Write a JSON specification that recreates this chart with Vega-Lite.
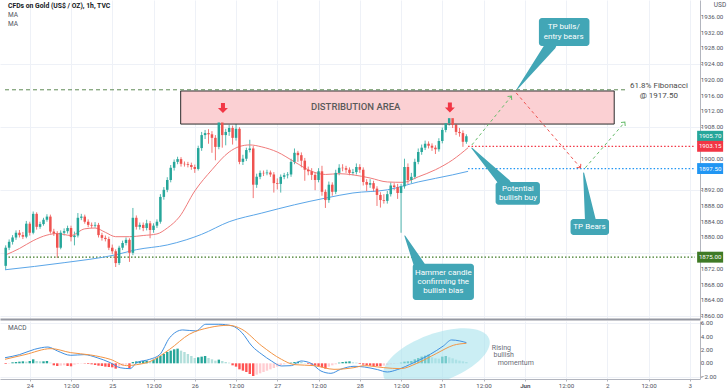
{
"$schema": "https://vega.github.io/schema/vega-lite/v6.json",
"padding": 0,
"background": "#ffffff",
"spacing": 0,
"config": {"view": {"stroke": null}, "font": "Roboto",
"axis": {"labelFont": "Roboto", "labelFontSize": 6.2, "labelColor": "#50535e", "tickSize": 2, "tickColor": "#b2b5be", "labelPadding": 2, "domainColor": "#b2b5be", "gridColor": "#eef1f7"}},
"datasets": {
"candles": [
{"t":-7,"o":1872.8,"h":1878.0,"l":1871.8,"c":1877.4},{"t":-6,"o":1877.4,"h":1879.5,"l":1876.8,"c":1878.9},{"t":-5,"o":1878.9,"h":1880.6,"l":1878.2,"c":1880.0},{"t":-4,"o":1880.0,"h":1881.8,"l":1879.4,"c":1881.2},{"t":-3,"o":1881.2,"h":1881.9,"l":1880.0,"c":1880.6},{"t":-2,"o":1880.6,"h":1881.4,"l":1879.6,"c":1880.2},{"t":-1,"o":1880.2,"h":1884.2,"l":1879.8,"c":1883.5},{"t":0,"o":1883.5,"h":1884.0,"l":1880.5,"c":1881.2},{"t":1,"o":1881.2,"h":1886.6,"l":1880.8,"c":1886.0},{"t":2,"o":1886.0,"h":1886.4,"l":1882.0,"c":1882.7},{"t":3,"o":1882.7,"h":1884.0,"l":1882.2,"c":1883.4},{"t":4,"o":1883.4,"h":1885.0,"l":1883.0,"c":1884.5},{"t":5,"o":1884.5,"h":1885.9,"l":1884.0,"c":1885.3},{"t":6,"o":1885.3,"h":1885.8,"l":1881.0,"c":1881.5},{"t":7,"o":1881.5,"h":1882.2,"l":1880.4,"c":1881.0},{"t":8,"o":1881.0,"h":1881.6,"l":1874.8,"c":1877.4},{"t":9,"o":1877.4,"h":1881.8,"l":1877.0,"c":1881.2},{"t":10,"o":1881.2,"h":1882.3,"l":1880.5,"c":1881.6},{"t":11,"o":1881.6,"h":1883.0,"l":1881.0,"c":1882.4},{"t":12,"o":1882.4,"h":1883.0,"l":1879.0,"c":1880.1},{"t":13,"o":1880.1,"h":1881.5,"l":1878.0,"c":1880.5},{"t":14,"o":1880.5,"h":1886.2,"l":1880.0,"c":1885.0},{"t":15,"o":1885.0,"h":1886.0,"l":1884.4,"c":1885.3},{"t":16,"o":1885.3,"h":1885.8,"l":1883.5,"c":1884.0},{"t":17,"o":1884.0,"h":1884.6,"l":1882.6,"c":1883.2},{"t":18,"o":1883.2,"h":1883.8,"l":1882.4,"c":1883.0},{"t":19,"o":1883.0,"h":1883.9,"l":1882.5,"c":1883.2},{"t":20,"o":1883.2,"h":1883.7,"l":1880.0,"c":1880.6},{"t":21,"o":1880.6,"h":1881.2,"l":1879.2,"c":1879.9},{"t":22,"o":1879.9,"h":1880.5,"l":1879.0,"c":1879.6},{"t":23,"o":1879.6,"h":1880.2,"l":1876.8,"c":1877.4},{"t":24,"o":1877.4,"h":1878.2,"l":1875.8,"c":1876.5},{"t":25,"o":1876.5,"h":1877.0,"l":1872.5,"c":1873.5},{"t":26,"o":1873.5,"h":1877.9,"l":1873.0,"c":1877.4},{"t":27,"o":1877.4,"h":1879.2,"l":1876.8,"c":1878.6},{"t":28,"o":1878.6,"h":1880.0,"l":1878.0,"c":1879.4},{"t":29,"o":1879.4,"h":1879.8,"l":1873.8,"c":1876.1},{"t":30,"o":1876.1,"h":1887.5,"l":1875.5,"c":1885.0},{"t":31,"o":1885.0,"h":1885.6,"l":1882.0,"c":1882.7},{"t":32,"o":1882.7,"h":1883.8,"l":1882.0,"c":1883.2},{"t":33,"o":1883.2,"h":1883.8,"l":1881.6,"c":1882.4},{"t":34,"o":1882.4,"h":1884.5,"l":1881.8,"c":1883.6},{"t":35,"o":1883.6,"h":1884.2,"l":1879.8,"c":1881.9},{"t":36,"o":1881.9,"h":1883.6,"l":1881.2,"c":1883.0},{"t":37,"o":1883.0,"h":1884.6,"l":1882.4,"c":1884.0},{"t":38,"o":1884.0,"h":1891.0,"l":1883.5,"c":1890.3},{"t":39,"o":1890.3,"h":1892.8,"l":1889.6,"c":1892.1},{"t":40,"o":1892.1,"h":1895.3,"l":1891.5,"c":1894.6},{"t":41,"o":1894.6,"h":1898.4,"l":1894.0,"c":1897.7},{"t":42,"o":1897.7,"h":1899.8,"l":1897.0,"c":1899.2},{"t":43,"o":1899.2,"h":1900.5,"l":1898.6,"c":1899.9},{"t":44,"o":1899.9,"h":1900.4,"l":1898.0,"c":1898.7},{"t":45,"o":1898.7,"h":1899.3,"l":1898.0,"c":1898.6},{"t":46,"o":1898.6,"h":1899.2,"l":1897.8,"c":1898.4},{"t":47,"o":1898.4,"h":1899.0,"l":1897.2,"c":1897.9},{"t":48,"o":1897.9,"h":1898.5,"l":1896.4,"c":1897.4},{"t":49,"o":1897.4,"h":1903.3,"l":1897.0,"c":1902.7},{"t":50,"o":1902.7,"h":1906.8,"l":1902.0,"c":1906.0},{"t":51,"o":1906.0,"h":1907.3,"l":1905.0,"c":1906.5},{"t":52,"o":1906.5,"h":1907.5,"l":1903.8,"c":1906.2},{"t":53,"o":1906.2,"h":1907.0,"l":1901.5,"c":1905.3},{"t":54,"o":1905.3,"h":1906.0,"l":1899.6,"c":1903.0},{"t":55,"o":1903.0,"h":1910.2,"l":1902.4,"c":1909.2},{"t":56,"o":1909.2,"h":1909.8,"l":1902.8,"c":1906.0},{"t":57,"o":1906.0,"h":1907.6,"l":1903.4,"c":1906.8},{"t":58,"o":1906.8,"h":1908.6,"l":1905.8,"c":1907.8},{"t":59,"o":1907.8,"h":1908.4,"l":1903.6,"c":1905.3},{"t":60,"o":1905.3,"h":1912.9,"l":1904.6,"c":1907.6},{"t":61,"o":1907.6,"h":1908.0,"l":1898.6,"c":1899.2},{"t":62,"o":1899.2,"h":1901.0,"l":1898.4,"c":1900.0},{"t":63,"o":1900.0,"h":1902.8,"l":1899.4,"c":1902.2},{"t":64,"o":1902.2,"h":1904.8,"l":1901.6,"c":1902.6},{"t":65,"o":1902.6,"h":1903.2,"l":1890.0,"c":1893.4},{"t":66,"o":1893.4,"h":1896.2,"l":1892.6,"c":1895.4},{"t":67,"o":1895.4,"h":1897.0,"l":1894.8,"c":1896.4},{"t":68,"o":1896.4,"h":1897.0,"l":1895.6,"c":1896.3},{"t":69,"o":1896.3,"h":1897.2,"l":1895.8,"c":1896.5},{"t":70,"o":1896.5,"h":1897.0,"l":1895.4,"c":1896.0},{"t":71,"o":1896.0,"h":1896.6,"l":1891.4,"c":1893.8},{"t":72,"o":1893.8,"h":1895.0,"l":1892.2,"c":1893.6},{"t":73,"o":1893.6,"h":1896.0,"l":1891.4,"c":1895.4},{"t":74,"o":1895.4,"h":1896.4,"l":1894.8,"c":1895.8},{"t":75,"o":1895.8,"h":1896.6,"l":1895.0,"c":1896.0},{"t":76,"o":1896.0,"h":1900.0,"l":1895.4,"c":1899.2},{"t":77,"o":1899.2,"h":1902.6,"l":1898.6,"c":1901.5},{"t":78,"o":1901.5,"h":1902.0,"l":1899.2,"c":1900.9},{"t":79,"o":1900.9,"h":1901.6,"l":1897.8,"c":1899.5},{"t":80,"o":1899.5,"h":1900.2,"l":1894.4,"c":1897.2},{"t":81,"o":1897.2,"h":1898.0,"l":1895.8,"c":1896.8},{"t":82,"o":1896.8,"h":1897.6,"l":1894.6,"c":1895.9},{"t":83,"o":1895.9,"h":1896.6,"l":1892.0,"c":1894.6},{"t":84,"o":1894.6,"h":1897.6,"l":1894.0,"c":1896.8},{"t":85,"o":1896.8,"h":1898.2,"l":1890.6,"c":1891.6},{"t":86,"o":1891.6,"h":1892.2,"l":1887.5,"c":1889.5},{"t":87,"o":1889.5,"h":1894.2,"l":1888.8,"c":1893.4},{"t":88,"o":1893.4,"h":1894.0,"l":1890.6,"c":1891.6},{"t":89,"o":1891.6,"h":1897.2,"l":1891.0,"c":1896.4},{"t":90,"o":1896.4,"h":1898.6,"l":1895.8,"c":1897.7},{"t":91,"o":1897.7,"h":1898.6,"l":1896.8,"c":1897.6},{"t":92,"o":1897.6,"h":1898.2,"l":1896.4,"c":1897.2},{"t":93,"o":1897.2,"h":1897.8,"l":1895.8,"c":1896.4},{"t":94,"o":1896.4,"h":1897.4,"l":1895.8,"c":1896.6},{"t":95,"o":1896.6,"h":1898.8,"l":1896.0,"c":1897.9},{"t":96,"o":1897.9,"h":1898.6,"l":1896.4,"c":1897.2},{"t":97,"o":1897.2,"h":1897.8,"l":1893.2,"c":1894.1},{"t":98,"o":1894.1,"h":1894.8,"l":1891.8,"c":1893.4},{"t":99,"o":1893.4,"h":1894.8,"l":1892.6,"c":1893.8},{"t":100,"o":1893.8,"h":1894.4,"l":1891.6,"c":1892.4},{"t":101,"o":1892.4,"h":1893.0,"l":1888.0,"c":1890.8},{"t":102,"o":1890.8,"h":1891.5,"l":1887.6,"c":1889.5},{"t":103,"o":1889.5,"h":1891.0,"l":1888.6,"c":1889.3},{"t":104,"o":1889.3,"h":1891.8,"l":1888.6,"c":1891.0},{"t":105,"o":1891.0,"h":1894.0,"l":1890.4,"c":1893.2},{"t":106,"o":1893.2,"h":1893.8,"l":1892.0,"c":1892.8},{"t":107,"o":1892.8,"h":1893.6,"l":1889.8,"c":1891.3},{"t":108,"o":1891.3,"h":1893.6,"l":1881.2,"c":1893.0},{"t":109,"o":1893.0,"h":1900.0,"l":1892.4,"c":1897.9},{"t":110,"o":1897.9,"h":1898.8,"l":1893.6,"c":1894.6},{"t":111,"o":1894.6,"h":1896.4,"l":1893.8,"c":1895.4},{"t":112,"o":1895.4,"h":1900.0,"l":1894.8,"c":1899.2},{"t":113,"o":1899.2,"h":1902.6,"l":1898.6,"c":1901.7},{"t":114,"o":1901.7,"h":1903.6,"l":1901.0,"c":1902.8},{"t":115,"o":1902.8,"h":1904.6,"l":1902.2,"c":1903.8},{"t":116,"o":1903.8,"h":1904.4,"l":1902.6,"c":1903.3},{"t":117,"o":1903.3,"h":1903.9,"l":1902.0,"c":1902.8},{"t":118,"o":1902.8,"h":1903.4,"l":1901.2,"c":1902.4},{"t":119,"o":1902.4,"h":1905.2,"l":1901.8,"c":1904.5},{"t":120,"o":1904.5,"h":1907.9,"l":1903.9,"c":1907.3},{"t":121,"o":1907.3,"h":1909.6,"l":1906.7,"c":1909.0},{"t":122,"o":1909.0,"h":1911.2,"l":1908.4,"c":1910.3},{"t":123,"o":1910.3,"h":1910.9,"l":1907.8,"c":1908.6},{"t":124,"o":1908.6,"h":1909.2,"l":1906.0,"c":1906.8},{"t":125,"o":1906.8,"h":1907.8,"l":1905.6,"c":1906.5},{"t":126,"o":1906.5,"h":1907.2,"l":1903.0,"c":1904.3},{"t":127,"o":1904.3,"h":1906.2,"l":1903.8,"c":1905.7}
],
"ma": [
{"s":"fast","t":-7.2,"v":1875.5},{"s":"fast","t":-3,"v":1877.2},{"s":"fast","t":1,"v":1879.2},{"s":"fast","t":5,"v":1880.6},{"s":"fast","t":8,"v":1881.0},{"s":"fast","t":12,"v":1880.5},{"s":"fast","t":16,"v":1882.2},{"s":"fast","t":19,"v":1882.4},{"s":"fast","t":22,"v":1881.3},{"s":"fast","t":25,"v":1880.2},{"s":"fast","t":29,"v":1880.2},{"s":"fast","t":33,"v":1880.5},{"s":"fast","t":37,"v":1880.9},{"s":"fast","t":40,"v":1882.4},{"s":"fast","t":43.5,"v":1885.2},{"s":"fast","t":48,"v":1891.8},{"s":"fast","t":53,"v":1897.2},{"s":"fast","t":58,"v":1901.7},{"s":"fast","t":61,"v":1903.1},{"s":"fast","t":64,"v":1903.5},{"s":"fast","t":67.5,"v":1903.0},{"s":"fast","t":72,"v":1901.7},{"s":"fast","t":77,"v":1899.2},{"s":"fast","t":82,"v":1896.8},{"s":"fast","t":86,"v":1896.0},{"s":"fast","t":90,"v":1896.2},{"s":"fast","t":94,"v":1895.9},{"s":"fast","t":99,"v":1895.1},{"s":"fast","t":104,"v":1894.1},{"s":"fast","t":108.6,"v":1894.0},{"s":"fast","t":113,"v":1895.4},{"s":"fast","t":118,"v":1897.2},{"s":"fast","t":123,"v":1899.7},{"s":"fast","t":127.5,"v":1902.8},
{"s":"slow","t":-7.2,"v":1871.8},{"s":"slow","t":10,"v":1873.6},{"s":"slow","t":25,"v":1875.6},{"s":"slow","t":31,"v":1876.9},{"s":"slow","t":40,"v":1878.1},{"s":"slow","t":45.5,"v":1879.4},{"s":"slow","t":50,"v":1880.8},{"s":"slow","t":58,"v":1884.0},{"s":"slow","t":67.5,"v":1886.2},{"s":"slow","t":77,"v":1888.3},{"s":"slow","t":86,"v":1890.0},{"s":"slow","t":94,"v":1891.3},{"s":"slow","t":104,"v":1892.1},{"s":"slow","t":113,"v":1894.1},{"s":"slow","t":123,"v":1895.9},{"s":"slow","t":127.5,"v":1896.8}
],
"levels": [
{"k":"fib","t":-7.2,"t2":173.7,"v":1917.5},
{"k":"sup","t":-7.2,"t2":193.5,"v":1875},
{"k":"red","t":127.5,"t2":193.5,"v":1903.15},
{"k":"blue","t":127.5,"t2":193.5,"v":1897.5}
],
"badges": [
{"k":"last","v":1905.7,"label":"1905.70"},
{"k":"red","v":1903.15,"label":"1903.15"},
{"k":"blue","v":1897.5,"label":"1897.50"},
{"k":"sup","v":1875,"label":"1875.00"}
],
"pticks": [{"v":1860},{"v":1864},{"v":1868},{"v":1872},{"v":1880},{"v":1884},{"v":1888},{"v":1892},{"v":1900},{"v":1908},{"v":1912},{"v":1916},{"v":1920},{"v":1924},{"v":1928},{"v":1932},{"v":1936}],
"mticks": [{"v":-2},{"v":0},{"v":2},{"v":4},{"v":6}],
"zone": [{"t":43.9,"t2":170,"v":1908.8,"v2":1917.2}],
"peaks": [{"t":56.2,"v":1912.9},{"t":122.2,"v":1913.0}],
"proj": [
{"seg":"g1","t":128.6,"v":1903.5},{"seg":"g1","t":140.1,"v":1915.9},
{"seg":"r1","t":141.5,"v":1916.7},{"seg":"r1","t":160.2,"v":1897.7},
{"seg":"g2","t":161.6,"v":1897.7},{"seg":"g2","t":173.1,"v":1909.3}
],
"heads": [{"seg":"g1","t":140.1,"v":1915.9},{"seg":"r1","t":160.2,"v":1897.7},{"seg":"g2","t":173.1,"v":1909.3}],
"boxes": [
{"id":"bulls","t":148.1,"t2":162.8,"v":1935.7,"v2":1928.6},
{"id":"buy","t":135.5,"t2":148.4,"v":1894.1,"v2":1888.3},
{"id":"bears","t":157.3,"t2":168.5,"v":1884.7,"v2":1880.6},
{"id":"hammer","t":111.4,"t2":129.2,"v":1873.3,"v2":1864.1}
],
"ptr": [
{"id":"bulls","t":151.6,"v":1928.9,"end":"base"},{"id":"bulls","t":141.8,"v":1917.7,"end":"tip"},
{"id":"buy","t":138.4,"v":1893.6,"end":"base"},{"id":"buy","t":128.6,"v":1902.7,"end":"tip"},
{"id":"bears","t":163.1,"v":1884.2,"end":"base"},{"id":"bears","t":161.1,"v":1896.4,"end":"tip"},
{"id":"hammer","t":113.4,"v":1872.8,"end":"base"},{"id":"hammer","t":109.1,"v":1880.4,"end":"tip"}
],
"texts": [
{"k":"title","t":-7.2,"v":1938.8,"text":"CFDs on Gold (US$ / OZ), 1h, TVC"},
{"k":"ma","t":-7.2,"v":1936.5,"text":"MA"},
{"k":"ma","t":-7.2,"v":1934.2,"text":"MA"},
{"k":"dist","t":81.8,"v":1913.1,"text":"DISTRIBUTION AREA"},
{"k":"fib","t":174.6,"v":1918.5,"text":"61.8% Fibonacci"},
{"k":"fib","t":177.4,"v":1915.9,"text":"@ 1917.50"},
{"k":"usd","t":198.1,"v":1939.0,"text":"USD"},
{"k":"call","t":155.3,"v":1933.5,"text":"TP bulls/"},
{"k":"call","t":155.3,"v":1930.9,"text":"entry bears"},
{"k":"call","t":142,"v":1892.3,"text":"Potential"},
{"k":"call","t":142,"v":1890.0,"text":"bullish buy"},
{"k":"call","t":162.8,"v":1882.7,"text":"TP Bears"},
{"k":"call","t":120.3,"v":1871.0,"text":"Hammer candle"},
{"k":"call","t":120.3,"v":1868.7,"text":"confirming the"},
{"k":"call","t":120.3,"v":1866.4,"text":"bullish bias"}
],
"hist": [
{"t":-7,"hv":-0.1},{"t":-6,"hv":-0.05},{"t":-5,"hv":0.15},{"t":-4,"hv":0.2},{"t":-3,"hv":0.25},{"t":-2,"hv":0.3},{"t":-1,"hv":0.25},{"t":0,"hv":0.35},{"t":1,"hv":0.6},{"t":2,"hv":0.35},{"t":3,"hv":0.3},{"t":4,"hv":0.3},{"t":5,"hv":0.35},{"t":6,"hv":0.1},{"t":7,"hv":-0.3},{"t":8,"hv":-0.4},{"t":9,"hv":-0.35},{"t":10,"hv":-0.3},{"t":11,"hv":-0.4},{"t":12,"hv":-0.45},{"t":13,"hv":-0.2},{"t":14,"hv":-0.1},{"t":15,"hv":-0.05},{"t":16,"hv":-0.05},{"t":17,"hv":-0.1},{"t":18,"hv":-0.15},{"t":19,"hv":-0.25},{"t":20,"hv":-0.35},{"t":21,"hv":-0.4},{"t":22,"hv":-0.5},{"t":23,"hv":-0.55},{"t":24,"hv":-0.6},{"t":25,"hv":-0.8},{"t":26,"hv":-0.5},{"t":27,"hv":-0.4},{"t":28,"hv":-0.2},{"t":29,"hv":-0.7},{"t":30,"hv":0.2},{"t":31,"hv":0.3},{"t":32,"hv":0.3},{"t":33,"hv":0.35},{"t":34,"hv":0.4},{"t":35,"hv":0.35},{"t":36,"hv":0.55},{"t":37,"hv":0.8},{"t":38,"hv":1.1},{"t":39,"hv":1.4},{"t":40,"hv":1.7},{"t":41,"hv":1.9},{"t":42,"hv":2.1},{"t":43,"hv":2.2},{"t":44,"hv":1.9},{"t":45,"hv":1.7},{"t":46,"hv":1.4},{"t":47,"hv":1.1},{"t":48,"hv":0.8},{"t":49,"hv":0.9},{"t":50,"hv":1.0},{"t":51,"hv":1.1},{"t":52,"hv":0.8},{"t":53,"hv":0.6},{"t":54,"hv":0.4},{"t":55,"hv":0.55},{"t":56,"hv":0.35},{"t":57,"hv":0.2},{"t":58,"hv":0.1},{"t":59,"hv":-0.3},{"t":60,"hv":-0.5},{"t":61,"hv":-0.9},{"t":62,"hv":-1.1},{"t":63,"hv":-1.3},{"t":64,"hv":-1.6},{"t":65,"hv":-1.9},{"t":66,"hv":-1.7},{"t":67,"hv":-1.5},{"t":68,"hv":-1.3},{"t":69,"hv":-1.1},{"t":70,"hv":-0.9},{"t":71,"hv":-0.7},{"t":72,"hv":-0.5},{"t":73,"hv":-0.3},{"t":74,"hv":-0.15},{"t":75,"hv":-0.05},{"t":76,"hv":0.1},{"t":77,"hv":0.2},{"t":78,"hv":0.25},{"t":79,"hv":0.2},{"t":80,"hv":0.05},{"t":81,"hv":-0.1},{"t":82,"hv":-0.2},{"t":83,"hv":-0.3},{"t":84,"hv":-0.45},{"t":85,"hv":-0.6},{"t":86,"hv":-0.8},{"t":87,"hv":-0.5},{"t":88,"hv":-0.3},{"t":89,"hv":-0.15},{"t":90,"hv":0.1},{"t":91,"hv":0.2},{"t":92,"hv":0.25},{"t":93,"hv":0.3},{"t":94,"hv":0.15},{"t":95,"hv":0.1},{"t":96,"hv":-0.1},{"t":97,"hv":-0.2},{"t":98,"hv":-0.3},{"t":99,"hv":-0.35},{"t":100,"hv":-0.4},{"t":101,"hv":-0.4},{"t":102,"hv":-0.45},{"t":103,"hv":-0.35},{"t":104,"hv":-0.25},{"t":105,"hv":-0.15},{"t":106,"hv":-0.1},{"t":107,"hv":-0.05},{"t":108,"hv":0.1},{"t":109,"hv":0.25},{"t":110,"hv":0.3},{"t":111,"hv":0.35},{"t":112,"hv":0.6},{"t":113,"hv":0.8},{"t":114,"hv":1.0},{"t":115,"hv":1.15},{"t":116,"hv":1.3},{"t":117,"hv":0.9},{"t":118,"hv":0.75},{"t":119,"hv":0.7},{"t":120,"hv":1.0},{"t":121,"hv":1.1},{"t":122,"hv":0.9},{"t":123,"hv":0.75},{"t":124,"hv":0.55},{"t":125,"hv":0.4},{"t":126,"hv":0.3},{"t":127,"hv":0.2}
],
"macd": [
{"s":"m","t":-7.2,"v":0.84},{"s":"m","t":-3,"v":1.3},{"s":"m","t":1.4,"v":2.1},{"s":"m","t":5.3,"v":2.44},{"s":"m","t":8.1,"v":1.84},{"s":"m","t":11.9,"v":1.2},{"s":"m","t":15.8,"v":1.3},{"s":"m","t":19.6,"v":0.84},{"s":"m","t":23.4,"v":0.1},{"s":"m","t":26.3,"v":-0.66},{"s":"m","t":29.2,"v":-0.8},{"s":"m","t":31.1,"v":0.1},{"s":"m","t":34.9,"v":0.6},{"s":"m","t":37.8,"v":1.3},{"s":"m","t":40.7,"v":3.84},{"s":"m","t":44.5,"v":5.0},{"s":"m","t":48.3,"v":4.85},{"s":"m","t":51.2,"v":5.85},{"s":"m","t":55,"v":5.85},{"s":"m","t":58.9,"v":5.6},{"s":"m","t":61.7,"v":4.6},{"s":"m","t":64.6,"v":2.6},{"s":"m","t":67.5,"v":1.35},{"s":"m","t":70.3,"v":0.35},{"s":"m","t":73.2,"v":-0.4},{"s":"m","t":76.1,"v":-0.35},{"s":"m","t":78.9,"v":0.35},{"s":"m","t":81.8,"v":0},{"s":"m","t":84.7,"v":-1.15},{"s":"m","t":87.6,"v":-1.5},{"s":"m","t":90.4,"v":-0.9},{"s":"m","t":94.3,"v":-0.45},{"s":"m","t":97.3,"v":-0.55},{"s":"m","t":101.2,"v":-0.95},{"s":"m","t":104,"v":-1.3},{"s":"m","t":106.9,"v":-0.95},{"s":"m","t":111.7,"v":0.1},{"s":"m","t":116.5,"v":1.35},{"s":"m","t":120.3,"v":2.6},{"s":"m","t":122.7,"v":3.5},{"s":"m","t":125.1,"v":3.35},{"s":"m","t":127,"v":3.1},
{"s":"sig","t":-7.2,"v":0.6},{"s":"sig","t":-1.4,"v":1.3},{"s":"sig","t":6.2,"v":2.2},{"s":"sig","t":11.9,"v":1.6},{"s":"sig","t":17.7,"v":1.25},{"s":"sig","t":23.4,"v":0.6},{"s":"sig","t":28.2,"v":-0.35},{"s":"sig","t":31.1,"v":-0.2},{"s":"sig","t":34.9,"v":0.25},{"s":"sig","t":40.7,"v":2.1},{"s":"sig","t":46.4,"v":4.35},{"s":"sig","t":52.2,"v":5.35},{"s":"sig","t":57.9,"v":5.7},{"s":"sig","t":61.7,"v":5.1},{"s":"sig","t":67.5,"v":2.6},{"s":"sig","t":73.2,"v":0.6},{"s":"sig","t":77,"v":-0.2},{"s":"sig","t":82.8,"v":-0.35},{"s":"sig","t":88.5,"v":-0.9},{"s":"sig","t":94.3,"v":-0.65},{"s":"sig","t":97.3,"v":-0.35},{"s":"sig","t":103,"v":-0.65},{"s":"sig","t":107.9,"v":-0.8},{"s":"sig","t":112.6,"v":0.0},{"s":"sig","t":118.4,"v":1.5},{"s":"sig","t":123.2,"v":2.7},{"s":"sig","t":127,"v":3.0}
],
"mtexts": [
{"k":"macd","t":-7.2,"v":5.3,"text":"MACD"},
{"k":"mom","t":134.4,"v":2.3,"text":"Rising"},
{"k":"mom","t":134.9,"v":1.2,"text":"bullish"},
{"k":"mom","t":136.1,"v":0.1,"text":"momentum"}
],
"blob": [{"t":118.3,"v":0.8}]
},
"vconcat": [
{
"width": 700,
"height": 319,
"layer": [
{
"data": {"name": "candles"},
"mark": {"type": "rule", "strokeWidth": 0.8},
"encoding": {
"x": {"field": "t", "type": "quantitative", "title": null, "scale": {"domain": [-7.2, 193.5], "nice": false, "zero": false},
"axis": {"orient": "bottom", "values": [0,12,24,36,48,60,72,84,96,108,120,132,144,156,168,180,192], "labels": false, "ticks": false, "domain": true, "domainColor": "#9598a1", "domainWidth": 2, "grid": true}},
"y": {"field": "l", "type": "quantitative", "title": null, "scale": {"domain": [1859.3, 1940.3], "nice": false, "zero": false},
"axis": {"orient": "right", "values": [1860,1864,1868,1872,1876,1880,1884,1888,1892,1896,1900,1904,1908,1912,1916,1920,1924,1928,1932,1936], "labels": false, "domain": true, "grid": true, "tickSize": 2}},
"y2": {"field": "h"},
"stroke": {"condition": {"test": "datum.c >= datum.o", "value": "#26a69a"}, "value": "#ef5350"}
}
},
{
"data": {"name": "zone"},
"mark": {"type": "rect", "fill": "#fbd0d3", "stroke": "#2b2b2b", "strokeWidth": 1},
"encoding": {"x": {"field": "t", "type": "quantitative", "title": null}, "x2": {"field": "t2"}, "y": {"field": "v", "type": "quantitative", "title": null}, "y2": {"field": "v2"}}
},
{
"data": {"name": "levels"},
"transform": [{"filter": "datum.k == 'fib'"}],
"mark": {"type": "rule", "stroke": "#5f8a55", "strokeDash": [4, 3], "strokeWidth": 1},
"encoding": {"x": {"field": "t", "type": "quantitative", "title": null}, "x2": {"field": "t2"}, "y": {"field": "v", "type": "quantitative", "title": null}}
},
{
"data": {"name": "levels"},
"transform": [{"filter": "datum.k != 'fib'"}],
"mark": {"type": "rule", "strokeDash": [1.5, 2], "strokeWidth": 1.2},
"encoding": {"x": {"field": "t", "type": "quantitative", "title": null}, "x2": {"field": "t2"}, "y": {"field": "v", "type": "quantitative", "title": null},
"stroke": {"field": "k", "type": "nominal", "legend": null, "scale": {"domain": ["sup", "red", "blue", "last"], "range": ["#3f7a26", "#f23645", "#2196f3", "#26a69a"]}}}
},
{
"data": {"name": "ma"},
"mark": {"type": "line", "strokeWidth": 1, "interpolate": "monotone"},
"encoding": {"x": {"field": "t", "type": "quantitative", "title": null}, "y": {"field": "v", "type": "quantitative", "title": null}, "detail": {"field": "s"},
"stroke": {"condition": {"test": "datum.s == 'fast'", "value": "#f07b7b"}, "value": "#5ba6e8"}}
},
{
"data": {"name": "candles"},
"mark": {"type": "bar", "width": 2.5},
"encoding": {"x": {"field": "t", "type": "quantitative", "title": null}, "y": {"field": "o", "type": "quantitative", "title": null}, "y2": {"field": "c"},
"fill": {"condition": {"test": "datum.c >= datum.o", "value": "#26a69a"}, "value": "#ef5350"}}
},
{
"data": {"name": "peaks"},
"mark": {"type": "point", "shape": "M-0.4,-1L0.4,-1L0.4,0L1,0L0,1L-1,0L-0.4,0Z", "filled": true, "fill": "#f23645", "size": 100, "opacity": 1, "strokeWidth": 0},
"encoding": {"x": {"field": "t", "type": "quantitative", "title": null}, "y": {"field": "v", "type": "quantitative", "title": null}}
},
{
"data": {"name": "proj"},
"mark": {"type": "line", "strokeWidth": 1, "strokeDash": [3, 3]},
"encoding": {"x": {"field": "t", "type": "quantitative", "title": null}, "y": {"field": "v", "type": "quantitative", "title": null}, "detail": {"field": "seg"},
"stroke": {"condition": {"test": "datum.seg == 'r1'", "value": "#ef5350"}, "value": "#66bb6a"}}
},
{
"data": {"name": "heads"},
"mark": {"type": "point", "shape": "M-1,-1L0,0L-1,1", "filled": false, "size": 30, "strokeWidth": 1, "opacity": 1},
"encoding": {"x": {"field": "t", "type": "quantitative", "title": null}, "y": {"field": "v", "type": "quantitative", "title": null},
"angle": {"condition": {"test": "datum.seg == 'r1'", "value": 49}, "value": -50},
"stroke": {"condition": {"test": "datum.seg == 'r1'", "value": "#ef5350"}, "value": "#66bb6a"}}
},
{
"data": {"name": "ptr"},
"mark": {"type": "trail", "fill": "#42a6b6"},
"encoding": {"x": {"field": "t", "type": "quantitative", "title": null}, "y": {"field": "v", "type": "quantitative", "title": null}, "detail": {"field": "id"},
"size": {"condition": {"test": "datum.end == 'tip'", "value": 1}, "value": 11}}
},
{
"data": {"name": "boxes"},
"mark": {"type": "rect", "fill": "#42a6b6", "cornerRadius": 3},
"encoding": {"x": {"field": "t", "type": "quantitative", "title": null}, "x2": {"field": "t2"}, "y": {"field": "v", "type": "quantitative", "title": null}, "y2": {"field": "v2"}}
},
{
"data": {"name": "texts"},
"transform": [{"filter": "datum.k == 'call'"}],
"mark": {"type": "text", "color": "#ffffff", "fontSize": 8, "align": "center", "baseline": "middle"},
"encoding": {"x": {"field": "t", "type": "quantitative", "title": null}, "y": {"field": "v", "type": "quantitative", "title": null}, "text": {"field": "text"}}
},
{
"data": {"name": "texts"},
"transform": [{"filter": "datum.k == 'title'"}],
"mark": {"type": "text", "color": "#131722", "fontSize": 6.8, "fontWeight": "bold", "align": "left", "baseline": "middle", "dx": 3},
"encoding": {"x": {"field": "t", "type": "quantitative", "title": null}, "y": {"field": "v", "type": "quantitative", "title": null}, "text": {"field": "text"}}
},
{
"data": {"name": "texts"},
"transform": [{"filter": "datum.k == 'ma' || datum.k == 'usd'"}],
"mark": {"type": "text", "color": "#50535e", "fontSize": 6.5, "align": "left", "baseline": "middle", "dx": 3},
"encoding": {"x": {"field": "t", "type": "quantitative", "title": null}, "y": {"field": "v", "type": "quantitative", "title": null}, "text": {"field": "text"}}
},
{
"data": {"name": "texts"},
"transform": [{"filter": "datum.k == 'dist'"}],
"mark": {"type": "text", "color": "#5a5a5a", "fontSize": 9.5, "fontWeight": 500, "align": "left", "baseline": "middle"},
"encoding": {"x": {"field": "t", "type": "quantitative", "title": null}, "y": {"field": "v", "type": "quantitative", "title": null}, "text": {"field": "text"}}
},
{
"data": {"name": "texts"},
"transform": [{"filter": "datum.k == 'fib'"}],
"mark": {"type": "text", "color": "#4a4a4a", "fontSize": 8, "align": "left", "baseline": "middle"},
"encoding": {"x": {"field": "t", "type": "quantitative", "title": null}, "y": {"field": "v", "type": "quantitative", "title": null}, "text": {"field": "text"}}
},
{
"data": {"name": "pticks"},
"mark": {"type": "text", "color": "#50535e", "fontSize": 6.2, "align": "left", "baseline": "middle"},
"encoding": {"x": {"datum": 195.2, "type": "quantitative", "title": null}, "y": {"field": "v", "type": "quantitative", "title": null}, "text": {"field": "v", "type": "quantitative", "format": ".2f"}}
},
{
"data": {"name": "badges"},
"mark": {"type": "point", "shape": "M-1,-0.42L1,-0.42L1,0.42L-1,0.42Z", "filled": true, "size": 676, "opacity": 1, "strokeWidth": 0},
"encoding": {"x": {"datum": 197.9, "type": "quantitative", "title": null}, "y": {"field": "v", "type": "quantitative", "title": null},
"fill": {"field": "k", "type": "nominal", "legend": null, "scale": {"domain": ["sup", "red", "blue", "last"], "range": ["#3f7a26", "#f23645", "#2196f3", "#26a69a"]}}}
},
{
"data": {"name": "badges"},
"mark": {"type": "text", "color": "#ffffff", "fontSize": 6.2, "align": "center", "baseline": "middle"},
"encoding": {"x": {"datum": 197.9, "type": "quantitative", "title": null}, "y": {"field": "v", "type": "quantitative", "title": null}, "text": {"field": "label"}}
}
]
},
{
"width": 700,
"height": 58,
"layer": [
{
"data": {"name": "hist"},
"transform": [{"window": [{"op": "lag", "field": "hv", "as": "prev"}], "sort": [{"field": "t"}]}],
"mark": {"type": "bar", "width": 2.4},
"encoding": {
"x": {"field": "t", "type": "quantitative", "title": null, "scale": {"domain": [-7.2, 193.5], "nice": false, "zero": false},
"axis": {"orient": "bottom", "values": [0,12,24,36,48,60,72,84,96,108,120,132,144,156,168,180,192], "labelExpr": "datum.value % 24 != 0 ? '12:00' : ['24','25','26','27','28','31','Jun','2','3'][datum.value / 24]", "labelFontSize": 6.2, "labelFontWeight": {"condition": {"test": "datum.value == 144", "value": "bold"}, "value": "normal"}, "tickSize": 2, "labelPadding": 1, "domain": true, "grid": true, "labelOverlap": false}},
"y": {"field": "hv", "type": "quantitative", "title": null, "scale": {"domain": [-2.35, 6.34], "nice": false, "zero": false},
"axis": {"orient": "right", "values": [-2, 0, 2, 4, 6], "labels": false, "domain": true, "grid": true, "tickSize": 2}},
"y2": {"datum": 0},
"fill": {"condition": [
{"test": "datum.hv >= 0 && (datum.prev == null || datum.hv >= datum.prev)", "value": "#26a69a"},
{"test": "datum.hv >= 0", "value": "#b2dfdb"},
{"test": "datum.prev != null && datum.hv > datum.prev", "value": "#ffcdd2"}
], "value": "#ff5252"}
}
},
{
"data": {"name": "blob"},
"mark": {"type": "point", "shape": "M-1,0A1,0.43,0,1,1,1,0A1,0.43,0,1,1,-1,0Z", "filled": true, "fill": "#a9e3ec", "opacity": 0.6, "size": 12544, "angle": -20, "strokeWidth": 0, "clip": true},
"encoding": {"x": {"field": "t", "type": "quantitative", "title": null}, "y": {"field": "v", "type": "quantitative", "title": null}}
},
{
"data": {"name": "macd"},
"mark": {"type": "line", "strokeWidth": 1, "interpolate": "monotone"},
"encoding": {"x": {"field": "t", "type": "quantitative", "title": null}, "y": {"field": "v", "type": "quantitative", "title": null}, "detail": {"field": "s"},
"stroke": {"condition": {"test": "datum.s == 'm'", "value": "#3f8fe0"}, "value": "#f39545"}}
},
{
"data": {"name": "mtexts"},
"transform": [{"filter": "datum.k == 'macd'"}],
"mark": {"type": "text", "color": "#50535e", "fontSize": 6.5, "align": "left", "baseline": "middle", "dx": 3},
"encoding": {"x": {"field": "t", "type": "quantitative", "title": null}, "y": {"field": "v", "type": "quantitative", "title": null}, "text": {"field": "text"}}
},
{
"data": {"name": "mtexts"},
"transform": [{"filter": "datum.k == 'mom'"}],
"mark": {"type": "text", "color": "#6a6d78", "fontSize": 7, "align": "left", "baseline": "middle"},
"encoding": {"x": {"field": "t", "type": "quantitative", "title": null}, "y": {"field": "v", "type": "quantitative", "title": null}, "text": {"field": "text"}}
},
{
"data": {"name": "mticks"},
"mark": {"type": "text", "color": "#50535e", "fontSize": 6.2, "align": "left", "baseline": "middle"},
"encoding": {"x": {"datum": 195.2, "type": "quantitative", "title": null}, "y": {"field": "v", "type": "quantitative", "title": null}, "text": {"field": "v", "type": "quantitative", "format": ".2f"}}
}
]
}
]
}
